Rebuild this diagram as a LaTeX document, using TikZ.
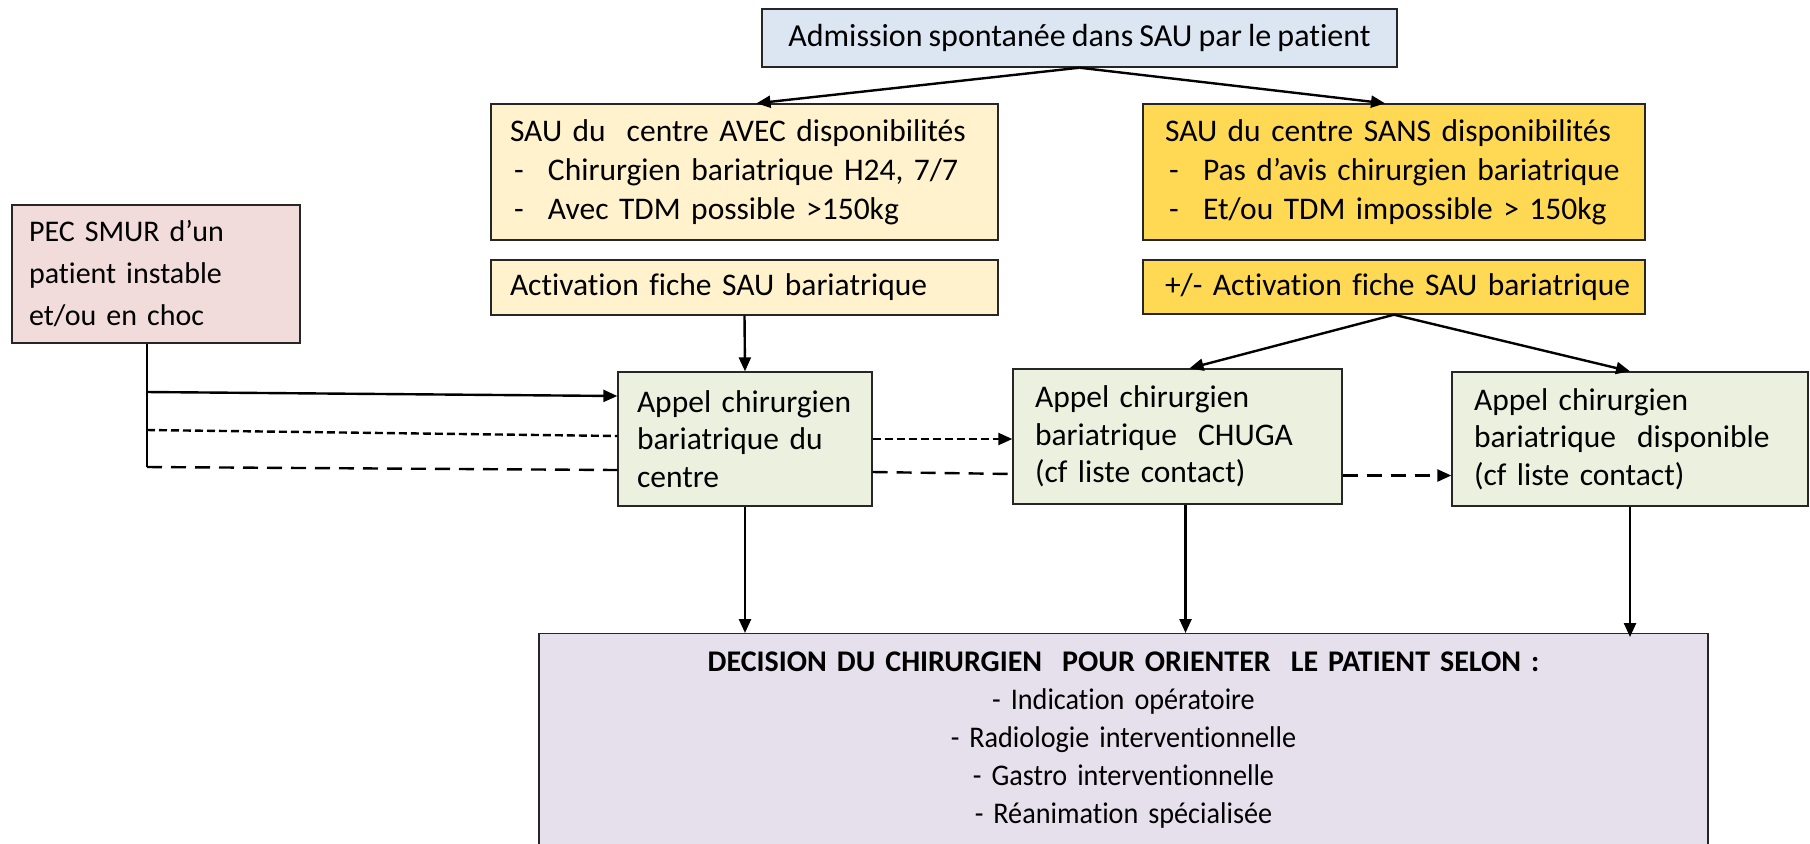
\documentclass[tikz,border=0pt]{standalone}
\usepackage{fontspec}
\setmainfont{Carlito}[Ligatures=NoCommon, WordSpace=0.85]
\newfontfamily\etroit{Carlito}[FakeStretch=0.94, Ligatures=NoCommon, WordSpace=0.85]
\usetikzlibrary{arrows.meta}
\definecolor{bleu}{HTML}{DCE6F2}
\definecolor{creme}{HTML}{FFF2CC}
\definecolor{or}{HTML}{FFD953}
\definecolor{rose}{HTML}{F2DCDB}
\definecolor{vert}{HTML}{EBF1DE}
\definecolor{mauve}{HTML}{E5E0EC}
\newcommand{\tiret}{\makebox[19pt][l]{\hspace{2pt}-}}

\tikzset{
  bloc/.style={draw=black!85, line width=0.7pt, inner xsep=9.5pt, inner ysep=0pt,
    align=left, font=\fontsize{15.75}{18.7}\selectfont},
  fleche/.style={line width=1.2pt, -{Triangle[length=7pt,width=6pt]}},
  trait/.style={line width=1.2pt},
  pointille/.style={line width=1.2pt, dash pattern=on 4pt off 2pt},
  tirets/.style={line width=1.2pt, dash pattern=on 7.5pt off 4.5pt},
}

\begin{document}
\begin{tikzpicture}[x=0.5pt, y=-0.5pt]
\useasboundingbox (0,0) rectangle (1810,843);

\node[bloc, fill=bleu, align=center, minimum width=317.5pt, minimum height=29pt,
  font=\fontsize{16}{19}\selectfont] (admission) at (1079.5,38)
  {Admission spontanée dans SAU par le patient};

\node[bloc, fill=creme, text width=234.5pt, minimum height=68pt,
  font=\fontsize{15.75}{19.5}\selectfont] (avec) at (744.5,172)
  {SAU du~ centre AVEC disponibilités\\
   \tiret Chirurgien bariatrique H24, 7/7\\
   \tiret Avec TDM possible >150kg};
\node[bloc, fill=creme, text width=234.5pt, minimum height=27.5pt] (act1) at (744.5,287.5)
  {Activation fiche SAU bariatrique};

\node[bloc, fill=or, inner xsep=11pt, text width=229pt, minimum height=68pt,
  font=\fontsize{15.75}{19.5}\selectfont] (sans) at (1394,172)
  {SAU du centre SANS disponibilités\\
   \tiret Pas d’avis chirurgien bariatrique\\
   \tiret Et/ou TDM impossible > 150kg};
\node[bloc, fill=or, inner xsep=11pt, text width=229pt, minimum height=27pt] (act2) at (1394,287)
  {\mbox{+/- Activation fiche SAU bariatrique}};

\node[bloc, fill=rose, inner xsep=8.5pt, text width=127pt, minimum height=69pt,
  font=\fontsize{15}{21}\selectfont] (smur) at (156,274)
  {PEC SMUR d’un\\ patient instable\\ et/ou en choc};

\node[bloc, fill=vert, text width=108pt, minimum height=67pt] (g1) at (745,439)
  {Appel chirurgien\\ bariatrique du\\ centre};
\node[bloc, fill=vert, inner xsep=11pt, text width=142.5pt, minimum height=67.5pt] (g2) at (1177.5,436.5)
  {Appel chirurgien\\ bariatrique~ CHUGA\\ (cf liste contact)};
\node[bloc, fill=vert, inner xsep=11pt, text width=156pt, minimum height=67pt] (g3) at (1630,439)
  {Appel chirurgien\\ bariatrique~ disponible\\ (cf liste contact)};

\node[bloc, fill=mauve, anchor=north, align=center, text width=565.5pt, inner ysep=9pt,
  font=\fontsize{15}{19}\selectfont] (decision) at (1123.5,633)
  {\textbf{DECISION DU CHIRURGIEN~ POUR ORIENTER~ LE PATIENT SELON :}\\
   {\etroit - Indication opératoire}\\
   {\etroit - Radiologie interventionnelle}\\
   {\etroit - Gastro interventionnelle}\\
   {\etroit - Réanimation spécialisée}\\[30pt]};

\draw[fleche] (admission.south) -- ([xshift=6pt]avec.north);
\draw[fleche] (admission.south) -- ([xshift=-4.5pt]sans.north);
\draw[fleche] (act1.south) -- (g1.north);
\draw[fleche] (act2.south) -- ([xshift=6pt]g2.north);
\draw[fleche] (act2.south) -- (g3.north);

\coordinate (s1) at (147,392);
\coordinate (s2) at (147,430);
\coordinate (s3) at (147,467);
\draw[trait] (smur.south -| s1) -- (s3);
\draw[fleche] (s1) -- ([yshift=21.5pt]g1.west);
\draw[pointille] (s2) -- ([yshift=1.5pt]g1.west);
\draw[tirets] (s3) -- ([yshift=-15.5pt]g1.west);
\draw[pointille, fleche] (g1.east) -- (g1.east -| g2.west);
\draw[tirets] ([yshift=-16.5pt]g1.east) -- ([yshift=-17.5pt]g1.east -| g2.west);
\draw[tirets, fleche] ([yshift=-19.5pt]g2.east) -- ([yshift=-19.5pt]g2.east -| g3.west);

\draw[fleche] (g1.south) -- (g1.south |- decision.north);
\draw[fleche] ([xshift=4pt]g2.south) -- ([xshift=4pt]g2.south |- decision.north);
\draw[fleche] (g3.south) -- ([yshift=-2pt]g3.south |- decision.north);

\end{tikzpicture}
\end{document}
